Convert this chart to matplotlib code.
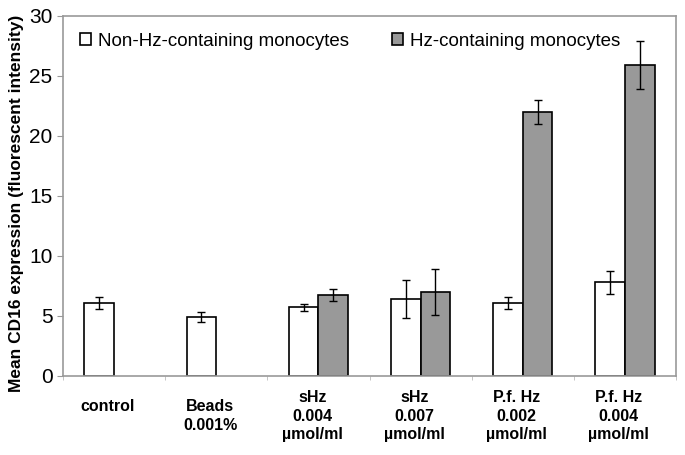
import numpy as np
import matplotlib
matplotlib.use("Agg")
import matplotlib.pyplot as plt

plt.rcParams['font.family'] = ['Liberation Sans', 'DejaVu Sans']

# data
groups = [["control"], ["Beads", "0.001%"], ["sHz", "0.004", "µmol/ml"],
          ["sHz", "0.007", "µmol/ml"], ["P.f. Hz", "0.002", "µmol/ml"],
          ["P.f. Hz", "0.004", "µmol/ml"]]
non_hz = [6.1, 4.9, 5.7, 6.4, 6.1, 7.8]
non_hz_err = [0.5, 0.4, 0.3, 1.6, 0.5, 0.95]
hz = [np.nan, np.nan, 6.7, 7.0, 22.0, 25.9]
hz_err = [np.nan, np.nan, 0.5, 1.9, 1.0, 2.0]

fig = plt.figure(figsize=(6.85, 4.55), dpi=100)
ax = fig.add_axes([0.092, 0.174, 0.895, 0.791])

x = np.arange(len(groups))
w = 0.29
ax.bar(x - w/2, non_hz, w, color='white', edgecolor='black', linewidth=1.2,
       label='Non-Hz-containing monocytes', zorder=2)
ax.bar(x + w/2, hz, w, color='#999999', edgecolor='black', linewidth=1.2,
       label='Hz-containing monocytes', zorder=2)
ax.errorbar(x - w/2, non_hz, yerr=non_hz_err, fmt='none', ecolor='black',
            elinewidth=1, capsize=3, capthick=1, zorder=3)
ax.errorbar(x + w/2, hz, yerr=hz_err, fmt='none', ecolor='black',
            elinewidth=1, capsize=3, capthick=1, zorder=3)

ax.set_xlim(-0.5, len(groups) - 0.5)
ax.set_ylim(0, 30)
ax.set_yticks(np.arange(0, 31, 5))
ax.tick_params(axis='y', labelsize=15, length=4, color='#999999', direction='out')
ax.set_xticks([])
ax.set_xticks(np.arange(len(groups) + 1) - 0.5, minor=True)
ax.tick_params(axis='x', which='minor', length=3, color='#bbbbbb')
for s in ax.spines.values():
    s.set_color('#999999')
    s.set_linewidth(1.2)

# category labels below the axis
for i, lines in enumerate(groups):
    yy = -0.086 if len(lines) == 1 else -0.112
    ax.text(i - 0.06, yy, "\n".join(lines), transform=ax.get_xaxis_transform(),
            ha='center', va='center', fontsize=11.5, fontweight='bold',
            linespacing=1.3)

ax.set_ylabel('Mean CD16 expression (fluorescent intensity)', fontsize=12.5,
              fontweight='bold', labelpad=3)
ax.yaxis.set_label_coords(-0.063, 0.48)

ax.legend(loc='upper left', ncol=2, frameon=False, fontsize=13.5,
          handlelength=0.6, handleheight=0.6, handletextpad=0.35,
          columnspacing=2.3, bbox_to_anchor=(0.0, 1.0))

fig.savefig('out.png', dpi=100)
